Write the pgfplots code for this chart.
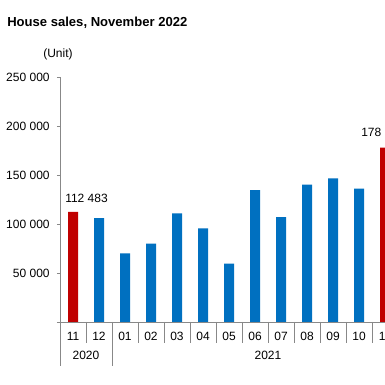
\documentclass[border=0pt]{standalone}
\usepackage{fontspec}
\setmainfont{Liberation Sans}
\usepackage{pgfplots}
\pgfplotsset{compat=1.18}
\definecolor{barblue}{HTML}{0070C0}
\definecolor{barred}{HTML}{C00000}
\definecolor{axgray}{HTML}{888888}
\begin{document}
\begin{tikzpicture}
\useasboundingbox (0pt,0pt) rectangle (288.75pt,288.75pt);
\clip (0pt,0pt) rectangle (288.75pt,288.75pt);
\fill[white] (0pt,0pt) rectangle (288.75pt,288.75pt);
\node[anchor=base west, inner sep=0pt, font=\bfseries\fontsize{9.8}{12}\selectfont] at (5.25pt,268.5pt) {House sales, November 2022};
\node[anchor=base, inner sep=0pt, font=\fontsize{9}{11}\selectfont] at (43.5pt,245.25pt) {(Unit)};
\begin{axis}[
  at={(45pt,47.25pt)}, anchor=south west,
  scale only axis, width=253.5pt, height=183.75pt,
  xmin=-0.5, xmax=12.5, ymin=0, ymax=250000,
  axis lines*=left,
  axis line style={axgray},
  clip=false,
  scaled y ticks=false,
  ytick={0,50000,100000,150000,200000,250000},
  yticklabels={,50 000,100 000,150 000,200 000,250 000},
  yticklabel style={font=\fontsize{9}{11}\selectfont, xshift=-2pt},
  ytick style={axgray},
  tick align=outside,
  major tick length=2.25pt,
  xtick={0,...,12},
  xticklabels={11,12,01,02,03,04,05,06,07,08,09,10,11},
  xticklabel style={font=\fontsize{9}{11}\selectfont, anchor=base, yshift=-12pt},
  x tick style={draw=none},
]
\addplot[ybar, bar shift=0pt, bar width=7.5pt, fill=barred, draw=none] coordinates {(0,112483) (12,178011)};
\addplot[ybar, bar shift=0pt, bar width=7.5pt, fill=barblue, draw=none] coordinates {
(1,105991) (2,70071) (3,80062) (4,110800) (5,95500) (6,59500) (7,134678) (8,106900) (9,140300) (10,146600) (11,136000)};
\node[anchor=base west, inner sep=0pt, font=\fontsize{9}{11}\selectfont, xshift=-6pt, yshift=6.75pt] at (axis cs:0,112483) {112 483};
\node[anchor=base west, inner sep=0pt, font=\fontsize{9}{11}\selectfont, xshift=-18pt, yshift=8pt] at (axis cs:12,178011) {178};
\pgfplotsinvokeforeach{0.5,2.5,3.5,4.5,5.5,6.5,7.5,8.5,9.5,10.5,11.5,12.5}{
  \draw[axgray] (axis cs:#1,0) -- ++(0pt,-15.75pt);
}
\draw[axgray] (axis cs:-0.5,0) -- ++(0pt,-33pt);
\draw[axgray] (axis cs:1.5,0) -- ++(0pt,-33pt);
\node[anchor=base, inner sep=0pt, yshift=-28.5pt, font=\fontsize{9}{11}\selectfont] at (axis cs:0.5,0) {2020};
\node[anchor=base, inner sep=0pt, yshift=-28.5pt, font=\fontsize{9}{11}\selectfont] at (axis cs:7.5,0) {2021};
\end{axis}
\end{tikzpicture}
\end{document}
